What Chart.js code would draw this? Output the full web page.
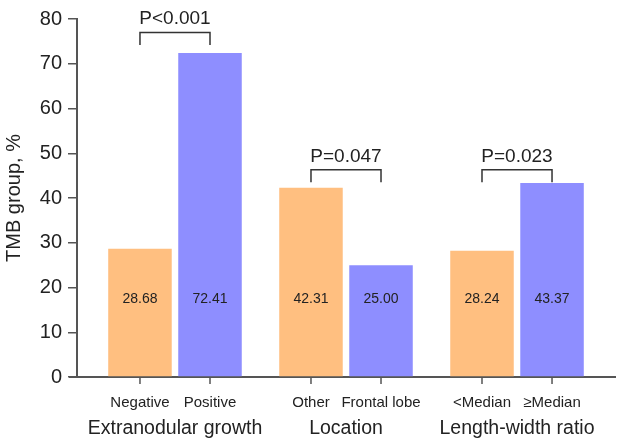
<!DOCTYPE html>
<html>
<head>
<meta charset="utf-8">
<script src="https://cdn.jsdelivr.net/npm/chart.js@4.4.1/dist/chart.umd.min.js"></script>
<style>
  body { margin: 0; background: #fff; }
  #wrap { width: 630px; height: 447px; }
</style>
</head>
<body>
<div id="wrap"><canvas id="tmbChart"></canvas></div>
<script>
const groups = ['Extranodular growth', 'Location', 'Length-width ratio'];
const firstLabels = ['Negative', 'Other', '<Median'];
const secondLabels = ['Positive', 'Frontal lobe', '≥Median'];
const firstValues = [28.68, 42.31, 28.24];
const secondValues = [72.41, 25.00, 43.37];
const pValues = ['P<0.001', 'P=0.047', 'P=0.023'];
const bracketTops = [77.0, 46.3, 46.3];

const FONT = '"Liberation Sans", Arial, Helvetica, sans-serif';
const axisColor = '#555';
const textColor = '#222';

// labels, value texts, p-value brackets and x tick marks
const extras = {
  id: 'extras',
  afterDatasetsDraw(chart) {
    const ctx = chart.ctx;
    const area = chart.chartArea;
    const y = chart.scales.y;
    const m0 = chart.getDatasetMeta(0).data;
    const m1 = chart.getDatasetMeta(1).data;
    ctx.save();

    // x axis runs a bit past the y axis on the left
    ctx.strokeStyle = axisColor;
    ctx.lineWidth = 2;
    ctx.beginPath();
    ctx.moveTo(area.left - 8, area.bottom);
    ctx.lineTo(area.left, area.bottom);
    ctx.stroke();

    groups.forEach((g, i) => {
      const xs = [m0[i].x, m1[i].x];
      const vals = [firstValues[i], secondValues[i]];
      const names = [firstLabels[i], secondLabels[i]];

      xs.forEach((x, k) => {
        // tick mark under bar
        ctx.strokeStyle = axisColor;
        ctx.lineWidth = 1.5;
        ctx.beginPath();
        ctx.moveTo(x, area.bottom);
        ctx.lineTo(x, area.bottom + 7);
        ctx.stroke();

        ctx.fillStyle = textColor;
        ctx.textAlign = 'center';
        ctx.textBaseline = 'middle';
        ctx.font = '14px ' + FONT;
        ctx.fillText(vals[k].toFixed(2), x, y.getPixelForValue(17.3));

        ctx.textBaseline = 'alphabetic';
        ctx.font = '15px ' + FONT;
        ctx.fillText(names[k], x, area.bottom + 30);
      });

      const mid = (xs[0] + xs[1]) / 2;
      ctx.font = '19.5px ' + FONT;
      ctx.fillText(g, mid, area.bottom + 57);

      // bracket
      const top = y.getPixelForValue(bracketTops[i]);
      ctx.strokeStyle = '#333';
      ctx.lineWidth = 1.5;
      ctx.beginPath();
      ctx.moveTo(xs[0], top + 12.5);
      ctx.lineTo(xs[0], top);
      ctx.lineTo(xs[1], top);
      ctx.lineTo(xs[1], top + 12.5);
      ctx.stroke();

      ctx.font = '19px ' + FONT;
      ctx.fillText(pValues[i], mid, top - 8);
    });
    ctx.restore();
  }
};

new Chart(document.getElementById('tmbChart'), {
  type: 'bar',
  data: {
    datasets: [
      {
        data: firstValues.map((v, i) => ({ x: i, y: v })),
        backgroundColor: '#FFBF80',
        borderWidth: 0,
        categoryPercentage: 0.819,
        barPercentage: 0.907
      },
      {
        data: secondValues.map((v, i) => ({ x: i, y: v })),
        backgroundColor: '#8E8EFF',
        borderWidth: 0,
        categoryPercentage: 0.819,
        barPercentage: 0.907
      }
    ]
  },
  options: {
    responsive: true,
    maintainAspectRatio: false,
    animation: false,
    layout: { padding: { top: 19, right: 15, left: 0, bottom: 0 } },
    plugins: { legend: { display: false }, tooltip: { enabled: false } },
    scales: {
      x: {
        type: 'linear',
        offset: false,
        min: -0.573,
        max: 2.573,
        grid: { display: false, offset: false },
        border: { display: true, color: axisColor, width: 2 },
        ticks: { display: false },
        afterBuildTicks: s => { s.ticks = groups.map((g, i) => ({ value: i })); },
        afterFit: s => { s.height = 70; }
      },
      y: {
        min: 0,
        max: 80,
        ticks: { stepSize: 10, color: textColor, font: { family: FONT, size: 20 }, padding: 6 },
        grid: { drawOnChartArea: false, drawTicks: true, tickLength: 9, color: axisColor, lineWidth: 1.5 },
        border: { color: axisColor, width: 2 },
        title: { display: true, text: 'TMB group, %', color: textColor, font: { family: FONT, size: 20 }, padding: { top: 2, bottom: 2 } },
        afterFit: s => { s.width = 77; }
      }
    }
  },
  plugins: [extras]
});
</script>
</body>
</html>
